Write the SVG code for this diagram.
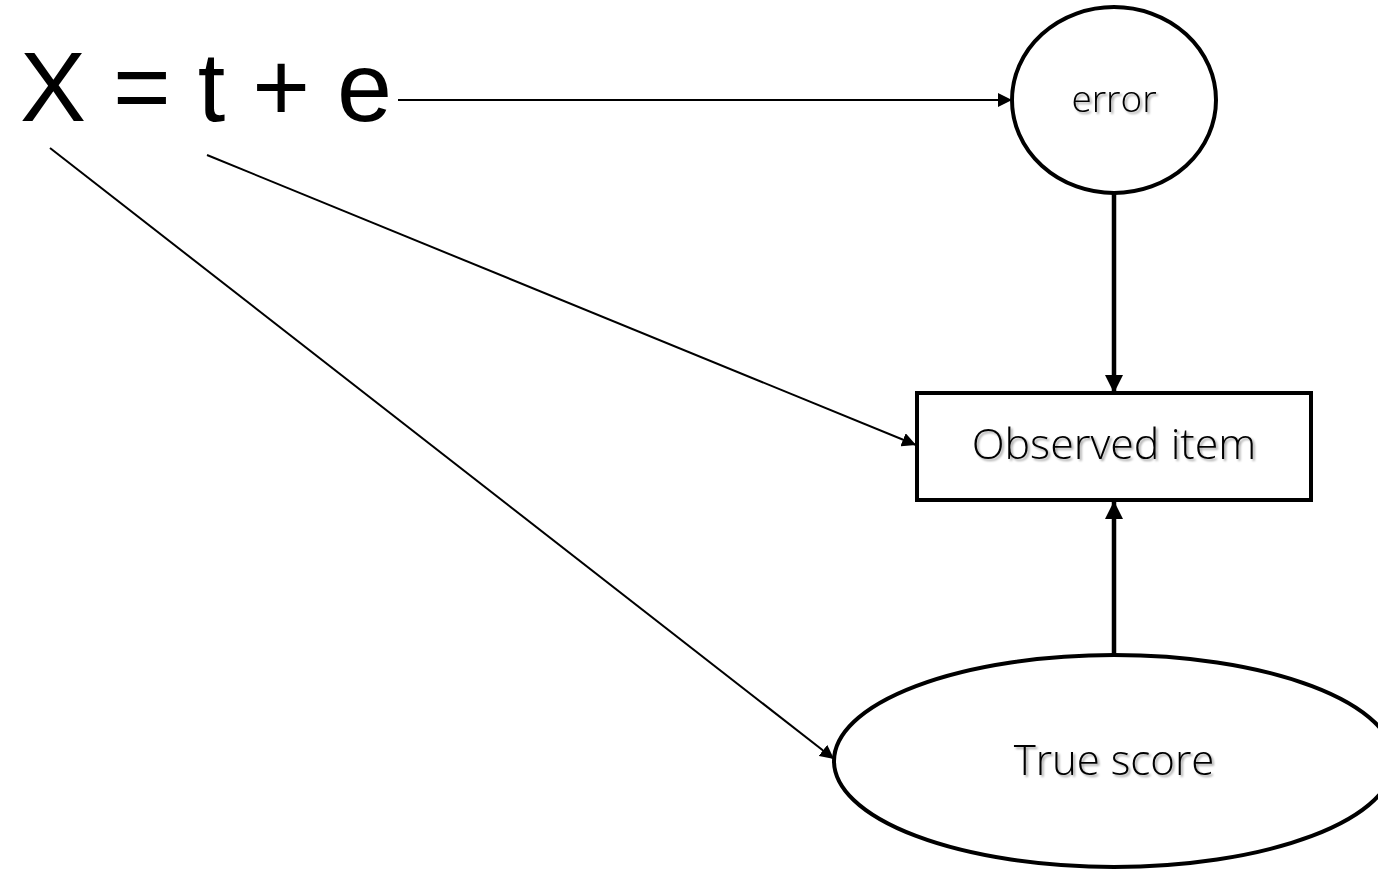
<svg xmlns="http://www.w3.org/2000/svg" width="1378" height="870" viewBox="0 0 1378 870">
<defs>
<marker id="ah" viewBox="0 0 10 10" refX="10" refY="5" markerWidth="14" markerHeight="14" markerUnits="userSpaceOnUse" orient="auto"><path d="M0,0 L10,5 L0,10 z" fill="#000"/></marker>
<marker id="thick" viewBox="0 0 10 10" refX="10" refY="5" markerWidth="18" markerHeight="18" markerUnits="userSpaceOnUse" orient="auto"><path d="M0,0 L10,5 L0,10 z" fill="#000"/></marker>
<filter id="sh" x="-10%" y="-10%" width="130%" height="140%"><feDropShadow dx="2" dy="2" stdDeviation="1.2" flood-color="#000" flood-opacity="0.35"/></filter>
</defs>
<style>
.node{fill:#fff;stroke:#000;stroke-width:4}
.lbl{font-family:"Open Sans","Noto Sans","DejaVu Sans",sans-serif;font-weight:300;fill:#000;text-anchor:middle;filter:url(#sh)}
.ln{stroke:#000;fill:none}
</style>
<rect width="1378" height="870" fill="#fff"/>
<g id="equation"><text x="20" y="121" font-family="Liberation Sans, Arial, sans-serif" font-size="99" fill="#000" textLength="372" lengthAdjust="spacing">X = t + e</text></g>
<g id="connectors">
<line class="ln" x1="398" y1="100" x2="1012" y2="100" stroke-width="2" marker-end="url(#ah)"/>
<line class="ln" x1="50" y1="148" x2="834" y2="759" stroke-width="2" marker-end="url(#ah)"/>
<line class="ln" x1="207" y1="155" x2="916" y2="445" stroke-width="2" marker-end="url(#ah)"/>
<line class="ln" x1="1114" y1="194" x2="1114" y2="393" stroke-width="4.5" marker-end="url(#thick)"/>
<line class="ln" x1="1114" y1="655" x2="1114" y2="501" stroke-width="4.5" marker-end="url(#thick)"/>
</g>
<g id="error"><ellipse class="node" cx="1114" cy="100" rx="102" ry="93"/><text class="lbl" x="1114" y="112" font-size="37">error</text></g>
<g id="observed"><rect class="node" x="917" y="393" width="394" height="107"/><text class="lbl" x="1114" y="459" font-size="43">Observed item</text></g>
<g id="truescore"><ellipse class="node" cx="1114" cy="761" rx="280" ry="106"/><text class="lbl" x="1114" y="775" font-size="42">True score</text></g>
</svg>
